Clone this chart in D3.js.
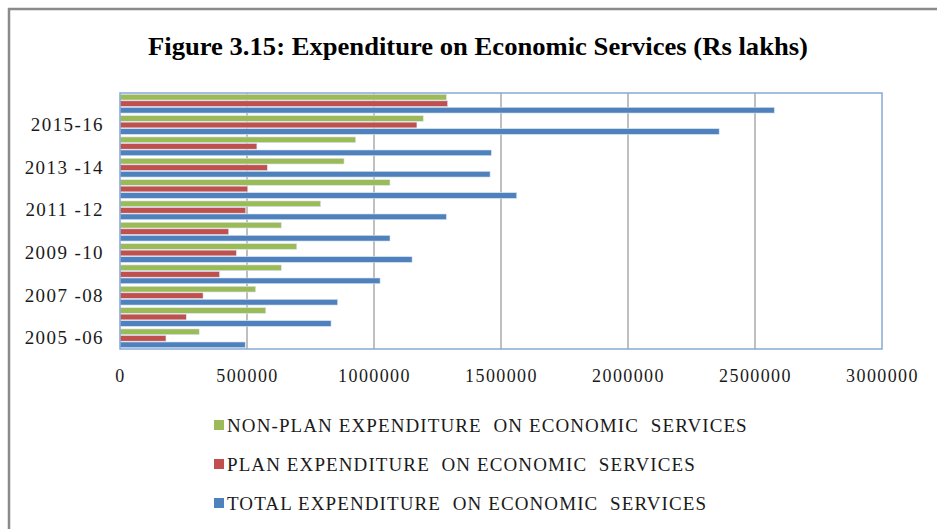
<!DOCTYPE html>
<html>
<head>
<meta charset="utf-8">
<script src="https://cdn.jsdelivr.net/npm/d3@7"></script>
<style>
  body { margin: 0; background: #fff; }
  svg { display: block; }
  text { font-family: "Liberation Serif", "Times New Roman", serif; fill: #1a1a1a; }
</style>
</head>
<body>
<div id="vis"></div>
<script>
// categories (bottom to top) and the labels Excel actually printed
var years = ['2005-06', '2006-07', '2007-08', '2008-09', '2009-10', '2010-11',
             '2011-12', '2012-13', '2013-14', '2014-15', '2015-16', '2016-17'];
var yearLabels = ['2005 -06', '', '2007 -08', '', '2009 -10', '',
                  '2011 -12', '', '2013 -14', '', '2015-16', ''];

// series values, Rs lakhs
var nonPlan = [312000, 574000, 534000, 635000, 696000, 635000,
               790000, 1063000, 882000, 928000, 1194000, 1285000];
var plan    = [181000, 261000, 327000, 392000, 458000, 428000,
               495000, 503000, 580000, 539000, 1169000, 1290000];
var total   = [493000, 831000, 857000, 1024000, 1150000, 1063000,
               1285000, 1562000, 1457000, 1462000, 2359000, 2576000];

var xTicks = [0, 500000, 1000000, 1500000, 2000000, 2500000, 3000000];

var seriesNames = ['NON-PLAN EXPENDITURE  ON ECONOMIC  SERVICES',
                   'PLAN EXPENDITURE  ON ECONOMIC  SERVICES',
                   'TOTAL EXPENDITURE  ON ECONOMIC  SERVICES'];
var seriesColors = ['#9bbb59', '#c0504d', '#4f81bd'];

var width = 937, height = 529;
var margin = { top: 93, right: 55, bottom: 180, left: 120 };
var drawWidth = width - margin.left - margin.right;   // 762
var drawHeight = height - margin.top - margin.bottom; // 256

var svg = d3.select('#vis').append('svg')
    .attr('width', width)
    .attr('height', height);

// outer frame (only top and left are visible in the crop)
svg.append('path')
    .attr('d', 'M9,' + height + 'V9H' + width)
    .attr('fill', 'none')
    .attr('stroke', '#8a8a8a')
    .attr('stroke-width', 2.5);

// title
svg.append('text')
    .attr('x', 478)
    .attr('y', 55)
    .attr('text-anchor', 'middle')
    .attr('textLength', 660)
    .attr('lengthAdjust', 'spacingAndGlyphs')
    .style('font-size', '25px')
    .style('font-weight', 'bold')
    .style('fill', '#000')
    .text('Figure 3.15: Expenditure on Economic Services (Rs lakhs)');

var g = svg.append('g')
    .attr('transform', 'translate(' + margin.left + ',' + margin.top + ')');

var xScale = d3.scaleLinear()
    .domain([0, 3000000])
    .range([0, drawWidth]);

var yScale = d3.scaleBand()
    .domain(years.slice().reverse())
    .range([0, drawHeight])
    .paddingInner(0.12)
    .paddingOuter(0.06);

var inner = d3.scaleBand()
    .domain([0, 1, 2])
    .range([0, yScale.bandwidth()])
    .paddingInner(0.12);

// gridlines
g.selectAll('.grid')
    .data(xTicks.slice(1, -1))
    .enter().append('line')
    .attr('x1', function(d) { return xScale(d); })
    .attr('x2', function(d) { return xScale(d); })
    .attr('y1', 0)
    .attr('y2', drawHeight)
    .attr('stroke', '#aaaaaa')
    .attr('stroke-width', 1.5);

// bars
var seriesData = [nonPlan, plan, total];
seriesData.forEach(function(values, si) {
    g.selectAll('.bar' + si)
        .data(values)
        .enter().append('rect')
        .attr('x', xScale(0))
        .attr('y', function(d, i) { return yScale(years[i]) + inner(si); })
        .attr('width', function(d) { return xScale(d) - xScale(0); })
        .attr('height', inner.bandwidth())
        .attr('fill', seriesColors[si])
        .attr('stroke', '#dde7f3')
        .attr('stroke-width', 0.6);
});

// plot area border
g.append('rect')
    .attr('width', drawWidth)
    .attr('height', drawHeight)
    .attr('fill', 'none')
    .attr('stroke', '#86a8d8')
    .attr('stroke-width', 1.5);

// x axis labels
var xAxis = d3.axisBottom(xScale)
    .tickValues(xTicks)
    .tickSize(0)
    .tickPadding(20)
    .tickFormat(d3.format('d'));
var gX = g.append('g')
    .attr('transform', 'translate(0,' + drawHeight + ')')
    .call(xAxis);
gX.select('.domain').remove();
gX.selectAll('text')
    .style('font-size', '18px')
    .style('letter-spacing', '1.4px')
    .style('font-family', '"Liberation Serif", serif');

// y axis labels
var yAxis = d3.axisLeft(yScale)
    .tickSize(0)
    .tickPadding(16)
    .tickFormat(function(d) { return yearLabels[years.indexOf(d)]; });
var gY = g.append('g').call(yAxis);
gY.select('.domain').remove();
gY.selectAll('text')
    .style('font-size', '19px')
    .style('letter-spacing', '1.4px')
    .style('font-family', '"Liberation Serif", serif');

// legend
var legend = svg.append('g')
    .attr('transform', 'translate(214,425)');
var items = legend.selectAll('g')
    .data(seriesNames)
    .enter().append('g')
    .attr('transform', function(d, i) { return 'translate(0,' + (i * 39) + ')'; });
items.append('rect')
    .attr('x', 0)
    .attr('y', -5)
    .attr('width', 10)
    .attr('height', 10)
    .attr('fill', function(d, i) { return seriesColors[i]; });
items.append('text')
    .attr('x', 13)
    .attr('y', 7)
    .style('font-size', '19px')
    .style('letter-spacing', '1.1px')
    .style('white-space', 'pre')
    .text(function(d) { return d; });
</script>
</body>
</html>
